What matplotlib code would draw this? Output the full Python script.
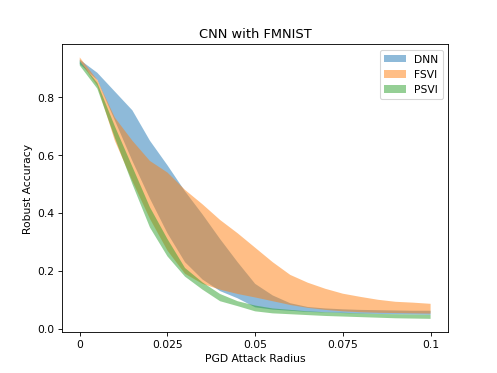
import numpy as np
import matplotlib
matplotlib.use("Agg")
import matplotlib.pyplot as plt

# attack radii
radius = [0.0, 0.005, 0.01, 0.015, 0.02, 0.025, 0.03, 0.035, 0.04, 0.045, 0.05,
          0.055, 0.06, 0.065, 0.07, 0.075, 0.08, 0.085, 0.09, 0.095, 0.1]

# robust accuracy bands (lower / upper)
dnn_low = [0.915, 0.86, 0.72, 0.58, 0.45, 0.33, 0.23, 0.17, 0.13, 0.105, 0.074,
           0.066, 0.062, 0.058, 0.056, 0.054, 0.052, 0.051, 0.05, 0.049, 0.048]
dnn_high = [0.93, 0.885, 0.82, 0.755, 0.65, 0.565, 0.475, 0.395, 0.31, 0.23, 0.155,
            0.115, 0.088, 0.075, 0.07, 0.067, 0.065, 0.064, 0.063, 0.062, 0.062]

fsvi_low = [0.925, 0.84, 0.65, 0.51, 0.38, 0.27, 0.19, 0.155, 0.135, 0.12, 0.108,
            0.095, 0.082, 0.072, 0.065, 0.06, 0.057, 0.055, 0.054, 0.053, 0.052]
fsvi_high = [0.938, 0.86, 0.73, 0.65, 0.58, 0.54, 0.48, 0.43, 0.376, 0.33, 0.28,
             0.23, 0.186, 0.159, 0.138, 0.121, 0.11, 0.10, 0.093, 0.09, 0.086]

psvi_low = [0.91, 0.83, 0.66, 0.50, 0.35, 0.25, 0.18, 0.135, 0.095, 0.078, 0.06,
            0.053, 0.05, 0.047, 0.044, 0.042, 0.04, 0.038, 0.036, 0.035, 0.034]
psvi_high = [0.925, 0.85, 0.70, 0.56, 0.42, 0.31, 0.21, 0.16, 0.12, 0.095, 0.08,
             0.07, 0.065, 0.06, 0.057, 0.055, 0.053, 0.051, 0.05, 0.049, 0.048]

fig, ax = plt.subplots(figsize=(6.4, 4.8), dpi=77.8)

ax.fill_between(radius, dnn_low, dnn_high, alpha=0.5, label='DNN', linewidth=0)
ax.fill_between(radius, fsvi_low, fsvi_high, alpha=0.5, label='FSVI', linewidth=0)
ax.fill_between(radius, psvi_low, psvi_high, alpha=0.5, label='PSVI', linewidth=0)

ax.set_xticks([0, 0.025, 0.05, 0.075, 0.1])
ax.set_xticklabels(['0', '0.025', '0.05', '0.075', '0.1'])
ax.set_xlabel('PGD Attack Radius')
ax.set_ylabel('Robust Accuracy')
ax.set_title('CNN with FMNIST')
ax.legend(loc='upper right')

fig.savefig('out.png', dpi=77.8)
